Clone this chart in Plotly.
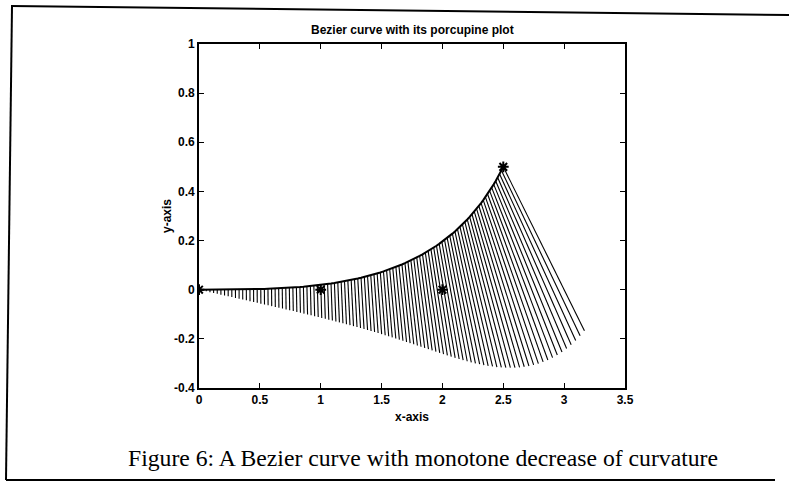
import numpy as np
import plotly.graph_objects as go

# Control points of the cubic Bezier curve (the star markers)
ctrl_x = [0.0, 1.0, 2.0, 2.5]
ctrl_y = [0.0, 0.0, 0.0, 0.5]
n_quills = 101          # number of porcupine quills along the curve
quill_scale = 1.0       # quill length = curvature * scale

x_ticks = [0, 0.5, 1, 1.5, 2, 2.5, 3, 3.5]
y_ticks = [-0.4, -0.2, 0, 0.2, 0.4, 0.6, 0.8, 1]

title_text = "Bezier curve with its porcupine plot"
x_label = "x-axis"
y_label = "y-axis"
caption = "Figure 6: A Bezier curve with monotone decrease of curvature"

# ---- Bezier evaluation from the control points ----
P = np.array([ctrl_x, ctrl_y]).T
t = np.linspace(0, 1, n_quills)[:, None]
B = ((1 - t) ** 3) * P[0] + 3 * ((1 - t) ** 2) * t * P[1] + 3 * (1 - t) * t ** 2 * P[2] + t ** 3 * P[3]
d1 = 3 * ((1 - t) ** 2) * (P[1] - P[0]) + 6 * (1 - t) * t * (P[2] - P[1]) + 3 * t ** 2 * (P[3] - P[2])
d2 = 6 * (1 - t) * (P[2] - 2 * P[1] + P[0]) + 6 * t * (P[3] - 2 * P[2] + P[1])
speed = np.hypot(d1[:, 0], d1[:, 1])
kappa = (d1[:, 0] * d2[:, 1] - d1[:, 1] * d2[:, 0]) / speed ** 3
nx = -d1[:, 1] / speed
ny = d1[:, 0] / speed
tip_x = B[:, 0] - quill_scale * kappa * nx
tip_y = B[:, 1] - quill_scale * kappa * ny

qx, qy = [], []
for i in range(n_quills):
    qx += [B[i, 0], tip_x[i], None]
    qy += [B[i, 1], tip_y[i], None]

fig = go.Figure()
fig.add_trace(go.Scatter(x=qx, y=qy, mode="lines",
                         line=dict(color="black", width=1.1), hoverinfo="skip"))
fig.add_trace(go.Scatter(x=B[:, 0], y=B[:, 1], mode="lines",
                         line=dict(color="black", width=2)))
fig.add_trace(go.Scatter(x=ctrl_x, y=ctrl_y, mode="markers",
                         marker=dict(symbol="asterisk-open", size=9, color="black",
                                     line=dict(color="black", width=2))))

# plot area in pixels
L, R, T, Bm = 199, 625, 44, 388
W, H = 789, 486
pw, ph = R - L, Bm - T

def px(xp):
    return (xp - L) / pw

def py(yp):
    return (Bm - yp) / ph

sans = "Liberation Sans, Arial, Helvetica"
axis_common = dict(showline=True, linecolor="black", linewidth=1.6, mirror="ticks",
                   ticks="inside", ticklen=5, tickwidth=1.2, tickcolor="black",
                   showgrid=False, zeroline=False,
                   tickfont=dict(family=sans, size=12, color="black", weight="bold"))

def note(text, x, y, size, family=sans, weight="bold", angle=0):
    return dict(text=text, x=px(x), y=py(y), xref="paper", yref="paper", showarrow=False,
                xanchor="center", yanchor="middle", textangle=angle,
                font=dict(family=family, size=size, color="black", weight=weight))

fig.update_layout(
    width=W, height=H,
    margin=dict(l=L, r=W - R, t=T, b=H - Bm),
    paper_bgcolor="white", plot_bgcolor="white",
    showlegend=False,
    xaxis=dict(range=[0, 3.5], tickvals=x_ticks, ticktext=[f"{v:g}" for v in x_ticks], **axis_common),
    yaxis=dict(range=[-0.4, 1], tickvals=y_ticks, ticktext=[f"{v:g}" for v in y_ticks], **axis_common),
    annotations=[
        note(title_text, 412, 30, 12),
        note(x_label, 412, 417, 12),
        note(y_label, 167, 216, 12, angle=-90),
        note(caption, 423, 458, 23.7, family="Liberation Serif, Times New Roman", weight="normal"),
    ],
    shapes=[
        dict(type="line", xref="paper", yref="paper", x0=px(11), y0=py(6), x1=px(790), y1=py(15),
             line=dict(color="black", width=2)),
        dict(type="line", xref="paper", yref="paper", x0=px(12), y0=py(6), x1=px(6), y1=py(480),
             line=dict(color="black", width=2)),
        dict(type="line", xref="paper", yref="paper", x0=px(6), y0=py(480), x1=px(775), y1=py(480),
             line=dict(color="black", width=2)),
    ],
)

fig.write_html("out.html", config={"displayModeBar": False},
               post_script="document.body.style.margin='0';")
